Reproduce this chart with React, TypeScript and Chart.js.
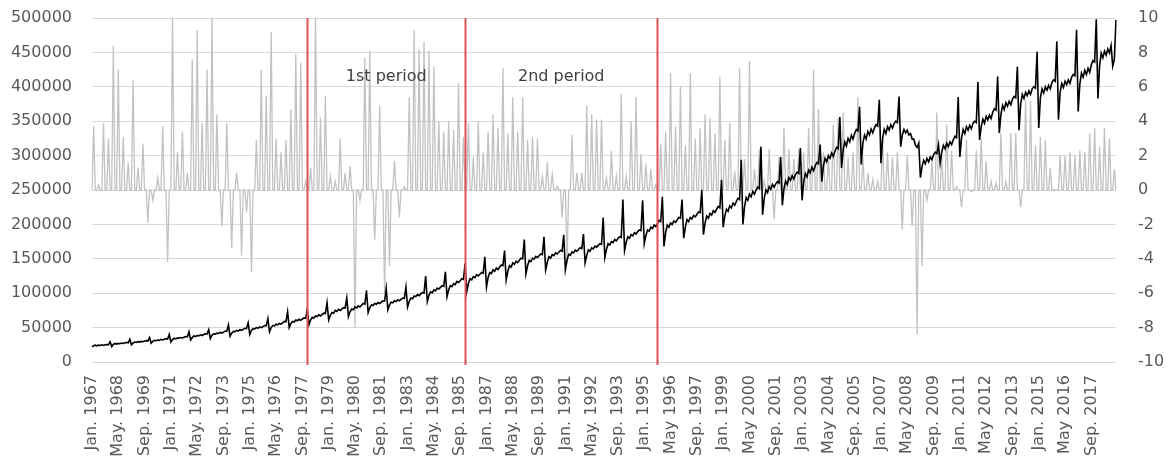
import React, { useEffect, useRef } from "react";
import { Chart, registerables } from "chart.js";

Chart.register(...registerables);

const firstYear = 1967;
const lastYear = 2018;
const monthNames = ["Jan", "Feb", "Mar", "Apr", "May", "Jun", "Jul", "Aug", "Sep", "Oct", "Nov", "Dec"];

// Level series (left axis), one row per year, Jan..Dec
const levelSeries: number[][] = [
  [22000, 23500, 24500, 23500, 24500, 24000, 25000, 24000, 25000, 25500, 25000, 29500],
  [22500, 25500, 27000, 26000, 27000, 26500, 27500, 27000, 28000, 28500, 28000, 33000],
  [25000, 27500, 29000, 28500, 29500, 29000, 30000, 29500, 30500, 31000, 30500, 35500],
  [27500, 30000, 31500, 31000, 32000, 31500, 33000, 32000, 33000, 34000, 33500, 40000],
  [29000, 32500, 34500, 33500, 35000, 34500, 35500, 35000, 36000, 37000, 36500, 44000],
  [32000, 35500, 38000, 37000, 38500, 38000, 39500, 38500, 40000, 41000, 40500, 47000],
  [34000, 39000, 41000, 40500, 42000, 41500, 43000, 42000, 43500, 45000, 44500, 54000],
  [37500, 42000, 44500, 44000, 46000, 45000, 47000, 46000, 47500, 49000, 48500, 57000],
  [40000, 46000, 48500, 48000, 50000, 49000, 51000, 50000, 51500, 53000, 52500, 63000],
  [44000, 50000, 53000, 52500, 55000, 54000, 56000, 55000, 57000, 59000, 58500, 73000],
  [50000, 56000, 59000, 58000, 61000, 60000, 62000, 60500, 62500, 64000, 63500, 77000],
  [54000, 61000, 65000, 64000, 67000, 66000, 68500, 67000, 69000, 71000, 70500, 86000],
  [61000, 68000, 72000, 71000, 75000, 73500, 76500, 75000, 77000, 79000, 78500, 93000],
  [66000, 73000, 77000, 76000, 80000, 78500, 81500, 80000, 82500, 85000, 84000, 104000],
  [72000, 79000, 83000, 82000, 85000, 84000, 86500, 85000, 87000, 89000, 88500, 107000],
  [76000, 83000, 87000, 86000, 89000, 88000, 90500, 89000, 91000, 93000, 92500, 109000],
  [80000, 88000, 93000, 92000, 96000, 95000, 98000, 96500, 99000, 101000, 100000, 125000],
  [88000, 97000, 102000, 100500, 105000, 103500, 107500, 106000, 108500, 111000, 110000, 131000],
  [95000, 105000, 111000, 109500, 114000, 112500, 117000, 115500, 118000, 121000, 120000, 143000],
  [102000, 114000, 121000, 119500, 124000, 122500, 127000, 125000, 127500, 130000, 129000, 153000],
  [109000, 123000, 130000, 128500, 134000, 132000, 136500, 134500, 138000, 141000, 140000, 162000],
  [119000, 132000, 140000, 138000, 144000, 142000, 146500, 144500, 148000, 151000, 150000, 178000],
  [128000, 140000, 147500, 146000, 151000, 149500, 153500, 152000, 154500, 157000, 156000, 182000],
  [134000, 145000, 153000, 151000, 156000, 154500, 158500, 157000, 159500, 162000, 161000, 185000],
  [134000, 148000, 156500, 155000, 160000, 158500, 162500, 161000, 163500, 166000, 165000, 186000],
  [144000, 155000, 163000, 161000, 166000, 164500, 168500, 167000, 169500, 172000, 171000, 210000],
  [152000, 164000, 172000, 170000, 175000, 173500, 178000, 176000, 179500, 182000, 181000, 236000],
  [162000, 174000, 182000, 180000, 185000, 183500, 188000, 186000, 189500, 192000, 191000, 235000],
  [172000, 184000, 192000, 190000, 196000, 194000, 199000, 197000, 201000, 206000, 204000, 240000],
  [168000, 188000, 199000, 196000, 202000, 200000, 205000, 203000, 206500, 210000, 209000, 236000],
  [180000, 196000, 207000, 204000, 210000, 208000, 213000, 211000, 214500, 218000, 217000, 250000],
  [185000, 202000, 212000, 209000, 216000, 213500, 220000, 217500, 222000, 226000, 224000, 265000],
  [196000, 212000, 222000, 219000, 227000, 224000, 231000, 228000, 233000, 238000, 236000, 294000],
  [200000, 225000, 239000, 235000, 244000, 240000, 248000, 244000, 250000, 254000, 252000, 313000],
  [214000, 238000, 250000, 246000, 255000, 251000, 258000, 254000, 259000, 262000, 260000, 298000],
  [228000, 252000, 263000, 258000, 268000, 264000, 271000, 266000, 272500, 276000, 274000, 311000],
  [235000, 262000, 274000, 269000, 279000, 275000, 283000, 278000, 285000, 290000, 288000, 316000],
  [262000, 285000, 296000, 291000, 300000, 296000, 304000, 299000, 306000, 312000, 310000, 356000],
  [282000, 308000, 320000, 314000, 325000, 320000, 329500, 324000, 332000, 338000, 336000, 371000],
  [287000, 318000, 330000, 324000, 335000, 330000, 338500, 333000, 340000, 345000, 343000, 381000],
  [289000, 325000, 338000, 332000, 342000, 337000, 345000, 340000, 346500, 350000, 348000, 386000],
  [313000, 330000, 338000, 333000, 337000, 330000, 332000, 324000, 324000, 315000, 312000, 318000],
  [268000, 284000, 293000, 288000, 296000, 291000, 298000, 294000, 301000, 305000, 303000, 316000],
  [289000, 305000, 315000, 310000, 318000, 313000, 320000, 316000, 323000, 328000, 326000, 385000],
  [298000, 325000, 338000, 332000, 342000, 337000, 344000, 339000, 347000, 350000, 348000, 407000],
  [323000, 342000, 353000, 347000, 357000, 352000, 359000, 354000, 363000, 368000, 366000, 415000],
  [333000, 360000, 373000, 367000, 377000, 372000, 379000, 374000, 382000, 386000, 384000, 429000],
  [337000, 375000, 389000, 383000, 392000, 387000, 394000, 389000, 397000, 400000, 398000, 451000],
  [340000, 384000, 397000, 391000, 400000, 395000, 402000, 397000, 406000, 410000, 408000, 466000],
  [352000, 392000, 405000, 399000, 408000, 403000, 410000, 405000, 414000, 418000, 416000, 483000],
  [364000, 404000, 420000, 414000, 424000, 418000, 427000, 421000, 432000, 438000, 436000, 498000],
  [383000, 430000, 449000, 442000, 452000, 446000, 455000, 449000, 460000, 430000, 440000, 497000],
];

// Growth series (right axis), one row per year, Jan..Dec
const growthSeries: number[][] = [
  [0, 3.7, 0, 0, 0.3, 0, 0, 3.9, 0, 0, 3.0, 0],
  [0, 8.4, 0, 0, 7.0, 0, 0, 3.1, 0, 0, 1.6, 0],
  [0, 6.4, 0, 0, 1.3, 0, 0, 2.7, 0, 0, -1.9, 0],
  [0, -0.6, 0, 0, 0.7, 0, 0, 3.7, 0, 0, -4.2, 0],
  [0, 10, 0, 0, 2.2, 0, 0, 3.4, 0, 0, 1.0, 0],
  [0, 7.6, 0, 0, 9.3, 0, 0, 3.9, 0, 0, 7.0, 0],
  [0, 10, 0, 0, 4.4, 0, 0, -2.1, 0, 0, 3.9, 0],
  [0, -3.4, 0, 0, 1.0, 0, 0, -3.8, 0, 0, -1.3, 0],
  [0, -4.8, 0, 0, 2.9, 0, 0, 7.0, 0, 0, 5.5, 0],
  [0, 9.2, 0, 0, 3.0, 0, 0, 2.2, 0, 0, 2.9, 0],
  [0, 4.7, 0, 0, 7.9, 0, 0, 7.4, 0, 0, 0.5, 0],
  [0, 1.3, 0, 0, 10, 0, 0, 4.2, 0, 0, 5.5, 0],
  [0, 0.8, 0, 0, 0.5, 0, 0, 3.0, 0, 0, 1.0, 0],
  [0, 1.4, 0, 0, -8.0, 0, 0, -0.6, 0, 0, 7.7, 0],
  [0, 8.1, 0, 0, -2.9, 0, 0, 4.9, 0, 0, -6.0, 0],
  [0, -4.4, 0, 0, 1.7, 0, 0, -1.6, 0, 0, 0.2, 0],
  [0, 5.4, 0, 0, 9.3, 0, 0, 8.2, 0, 0, 8.6, 0],
  [0, 8.1, 0, 0, 7.2, 0, 0, 4.0, 0, 0, 3.4, 0],
  [0, 4.0, 0, 0, 3.5, 0, 0, 6.2, 0, 0, 3.1, 0],
  [0, 3.9, 0, 0, 1.9, 0, 0, 4.0, 0, 0, 2.2, 0],
  [0, 3.4, 0, 0, 4.4, 0, 0, 3.6, 0, 0, 7.1, 0],
  [0, 3.3, 0, 0, 5.4, 0, 0, 3.4, 0, 0, 5.4, 0],
  [0, 2.9, 0, 0, 3.1, 0, 0, 3.0, 0, 0, 0.8, 0],
  [0, 1.6, 0, 0, 0.9, 0, 0, 0.2, 0, 0, -1.6, 0],
  [0, -4.3, 0, 0, 3.2, 0, 0, 1.0, 0, 0, 1.0, 0],
  [0, 4.9, 0, 0, 4.4, 0, 0, 4.1, 0, 0, 4.1, 0],
  [0, 0.7, 0, 0, 2.3, 0, 0, 0.8, 0, 0, 5.6, 0],
  [0, 0.8, 0, 0, 4.0, 0, 0, 5.4, 0, 0, 2.1, 0],
  [0, 1.5, 0, 0, 1.2, 0, 0, 0.3, 0, 0, 2.7, 0],
  [0, 3.4, 0, 0, 6.8, 0, 0, 3.7, 0, 0, 6.0, 0],
  [0, 2.6, 0, 0, 6.8, 0, 0, 3.0, 0, 0, 3.6, 0],
  [0, 4.4, 0, 0, 4.2, 0, 0, 3.3, 0, 0, 6.6, 0],
  [0, 2.9, 0, 0, 3.9, 0, 0, 1.1, 0, 0, 7.1, 0],
  [0, 1.8, 0, 0, 7.5, 0, 0, 1.2, 0, 0, 2.4, 0],
  [0, 0.5, 0, 0, 2.4, 0, 0, -1.7, 0, 0, 1.9, 0],
  [0, 3.6, 0, 0, 2.4, 0, 0, 1.8, 0, 0, 2.4, 0],
  [0, 2.2, 0, 0, 3.6, 0, 0, 7.0, 0, 0, 4.7, 0],
  [0, 2.2, 0, 0, 1.9, 0, 0, 3.8, 0, 0, 4.2, 0],
  [0, 4.5, 0, 0, 1.9, 0, 0, 2.2, 0, 0, 5.4, 0],
  [0, 1.9, 0, 0, 1.0, 0, 0, 0.6, 0, 0, 0.5, 0],
  [0, 2.9, 0, 0, 2.2, 0, 0, 1.9, 0, 0, 2.2, 0],
  [0, -2.3, 0, 0, 2.0, 0, 0, -2.1, 0, 0, -8.4, 0],
  [0, -4.4, 0, 0, -0.6, 0, 0, 1.7, 0, 0, 4.5, 0],
  [0, 2.0, 0, 0, 3.8, 0, 0, 2.3, 0, 0, 0.2, 0],
  [0, -1.0, 0, 0, 2.9, 0, 0, -0.1, 0, 0, 2.3, 0],
  [0, 3.0, 0, 0, 1.7, 0, 0, 0.5, 0, 0, 0.4, 0],
  [0, 3.3, 0, 0, 0.5, 0, 0, 3.3, 0, 0, 3.3, 0],
  [0, -1.0, 0, 0, 5.2, 0, 0, 5.2, 0, 0, 2.6, 0],
  [0, 3.1, 0, 0, 2.9, 0, 0, 1.3, 0, 0, 0.0, 0],
  [0, 2.0, 0, 0, 2.0, 0, 0, 2.2, 0, 0, 2.0, 0],
  [0, 2.3, 0, 0, 2.2, 0, 0, 3.3, 0, 0, 3.6, 0],
  [0, 2.5, 0, 0, 3.6, 0, 0, 3.0, 0, 0, 1.2, 0],
];

// Axis labels shown every 16 months
const tickLabels = [
  "Jan. 1967", "May. 1968", "Sep. 1969", "Jan. 1971", "May. 1972", "Sep. 1973", "Jan. 1975",
  "May. 1976", "Sep. 1977", "Jan. 1979", "May. 1980", "Sep. 1981", "Jan. 1983", "May. 1984",
  "Sep. 1985", "Jan. 1987", "May. 1988", "Sep. 1989", "Jan. 1991", "May. 1992", "Sep. 1993",
  "Jan. 1995", "May 1996", "Sep. 1997", "Jan. 1999", "May 2000", "Sep. 2001", "Jan. 2003",
  "May 2004", "Sep. 2005", "Jan. 2007", "May 2008", "Sep. 2009", "Jan. 2011", "May 2012",
  "Sep. 2013", "Jan. 2015", "May 2016", "Sep. 2017",
];
const tickEvery = 16;

// Period boundaries (red lines) and period names
const periodBreaks = ["Dec 1977", "Dec 1985", "Sep 1995"];
const periodNames = ["1st period", "2nd period"];
const periodLabelLevel = 6.6; // right-axis value where the period names sit

const FONT = "'DejaVu Sans', sans-serif";
const TICK_COLOR = "#595959";

export default function App() {
  const canvasRef = useRef<HTMLCanvasElement | null>(null);

  useEffect(() => {
    document.body.style.margin = "0";
    const canvas = canvasRef.current;
    if (!canvas) return;

    const labels: string[] = [];
    for (let y = firstYear; y <= lastYear; y++) {
      for (const m of monthNames) labels.push(`${m} ${y}`);
    }
    const breakIdx = periodBreaks.map((b) => labels.indexOf(b));

    const periodPlugin = {
      id: "periods",
      afterDatasetsDraw(chart: any) {
        const { ctx, chartArea, scales } = chart;
        const xs = scales.x;
        const y1 = scales.y1;
        ctx.save();
        ctx.strokeStyle = "#E05252";
        ctx.lineWidth = 2;
        breakIdx.forEach((i) => {
          const x = Math.round(xs.getPixelForValue(i)) + 0.5;
          ctx.beginPath();
          ctx.moveTo(x, chartArea.top);
          ctx.lineTo(x, chartArea.bottom + 3);
          ctx.stroke();
        });
        ctx.fillStyle = "#404040";
        ctx.font = `16px ${FONT}`;
        ctx.textAlign = "center";
        ctx.textBaseline = "middle";
        periodNames.forEach((name, k) => {
          const xa = xs.getPixelForValue(breakIdx[k]);
          const xb = xs.getPixelForValue(breakIdx[k + 1]);
          ctx.fillText(name, (xa + xb) / 2, y1.getPixelForValue(periodLabelLevel));
        });
        ctx.restore();
      },
    };

    const noPad = (s: any) => {
      s.paddingTop = 0;
      s.paddingBottom = 0;
      s.paddingLeft = 0;
      s.paddingRight = 0;
    };

    const chart = new Chart(canvas, {
      type: "line",
      data: {
        labels,
        datasets: [
          {
            label: "Level",
            data: levelSeries.flat(),
            borderColor: "#000000",
            borderWidth: 1.6,
            pointRadius: 0,
            tension: 0,
            yAxisID: "y",
            order: 0,
          },
          {
            label: "Growth",
            data: growthSeries.flat(),
            borderColor: "#C2C2C2",
            borderWidth: 1.3,
            pointRadius: 0,
            tension: 0,
            yAxisID: "y1",
            order: 1,
          },
        ],
      },
      options: {
        responsive: false,
        animation: false,
        layout: { padding: { top: 18, left: 0, right: 0, bottom: 0 } },
        plugins: {
          legend: { display: false },
          tooltip: { enabled: false },
        },
        scales: {
          x: {
            type: "category",
            offset: false,
            grid: { display: false, drawTicks: false },
            border: { display: false },
            ticks: {
              autoSkip: false,
              minRotation: 90,
              maxRotation: 90,
              padding: 13,
              color: TICK_COLOR,
              font: { family: FONT, size: 16 },
              callback: (_v: any, i: number) => (i % tickEvery === 0 ? tickLabels[i / tickEvery] : null),
            },
            afterFit: (s: any) => {
              s.height = 100;
              noPad(s);
            },
          },
          y: {
            position: "left",
            min: 0,
            max: 500000,
            grid: { color: "#D9D9D9", lineWidth: 1, drawTicks: false },
            border: { display: false },
            ticks: {
              stepSize: 50000,
              padding: 20,
              color: TICK_COLOR,
              font: { family: FONT, size: 16 },
              callback: (v: any) => String(v),
            },
            afterFit: (s: any) => {
              s.width = 92;
              noPad(s);
            },
          },
          y1: {
            position: "right",
            min: -10,
            max: 10,
            grid: { display: false, drawTicks: false },
            border: { display: false },
            ticks: {
              stepSize: 2,
              padding: 22,
              color: TICK_COLOR,
              font: { family: FONT, size: 16 },
              callback: (v: any) => String(v),
            },
            afterFit: (s: any) => {
              s.width = 53;
              noPad(s);
            },
          },
        },
      },
      plugins: [periodPlugin],
    });

    return () => chart.destroy();
  }, []);

  return (
    <div style={{ width: 1169, height: 462, position: "relative" }}>
      <canvas ref={canvasRef} width={1169} height={462} style={{ display: "block" }} />
    </div>
  );
}
